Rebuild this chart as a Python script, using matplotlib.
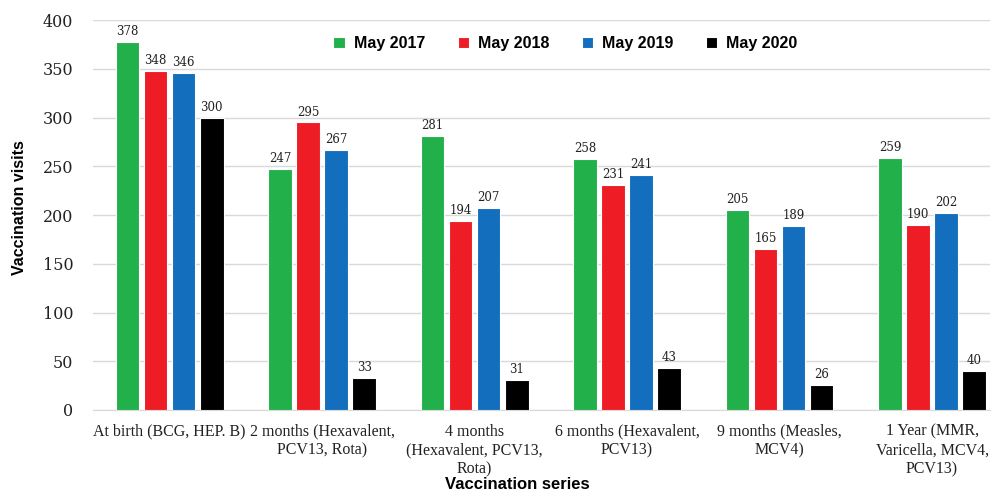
import numpy as np
import matplotlib.pyplot as plt

# Datos
categorias = ["At birth (BCG, HEP. B)", "2 months (Hexavalent,\nPCV13, Rota)",
              "4 months\n(Hexavalent, PCV13,\nRota)", "6 months (Hexavalent,\nPCV13)",
              "9 months (Measles,\nMCV4)", "1 Year (MMR,\nVaricella, MCV4,\nPCV13)"]
series = ["May 2017", "May 2018", "May 2019", "May 2020"]
may_2017 = [378, 247, 281, 258, 205, 259]
may_2018 = [348, 295, 194, 231, 165, 190]
may_2019 = [346, 267, 207, 241, 189, 202]
may_2020 = [300, 33, 31, 43, 26, 40]
colores = ['#22b04b', '#ee1c24', '#136fbd', '#000000']

valores = [may_2017, may_2018, may_2019, may_2020]
serif = ['DejaVu Serif']
serif2 = ['Liberation Serif', 'DejaVu Serif']
sans = ['Liberation Sans', 'DejaVu Sans']

fig = plt.figure(figsize=(9.96, 4.92), dpi=100)
ax = fig.add_axes([0.093, 0.1667, 0.901, 0.7923])

x = np.arange(len(categorias))
paso = 0.184
ancho = 0.155
for i, (nombre, vals, color) in enumerate(zip(series, valores, colores)):
    pos = x + (i - 1.5) * paso
    barras = ax.bar(pos, vals, width=ancho, color=color, edgecolor='white',
                    linewidth=0.8, label=nombre, zorder=3)
    for b, v in zip(barras, vals):
        ax.text(b.get_x() + b.get_width() / 2, v + 4, str(v), ha='center',
                va='bottom', fontsize=8.5, family=serif, color='#222222')

ax.set_ylim(0, 400)
ax.set_xlim(-0.505, 5.38)
ax.set_yticks(range(0, 401, 50))
ax.set_xticks(x)
ax.set_xticklabels(categorias, family=serif2, fontsize=11.5, color='#222222',
                   linespacing=1.25)
for t in ax.get_yticklabels():
    t.set_family(serif)
    t.set_fontsize(11.5)
    t.set_color('#222222')
ax.tick_params(axis='x', length=0, pad=10)
ax.tick_params(axis='y', length=0, pad=14)
ax.grid(axis='y', color='#d9d9d9', linewidth=1, zorder=0)
for s in ['top', 'right', 'left']:
    ax.spines[s].set_visible(False)
ax.spines['bottom'].set_color('#d9d9d9')

ax.set_ylabel("Vaccination visits", family=sans, fontsize=11.5, fontweight='bold')
ax.yaxis.set_label_coords(-0.073, 0.52)
ax.set_xlabel("Vaccination series", family=sans, fontsize=12, fontweight='bold')
ax.xaxis.set_label_coords(0.473, -0.19)
ax.xaxis.label.set_va('center')

ax.legend(loc='upper center', bbox_to_anchor=(0.527, 0.995), ncol=4, frameon=False,
          prop={'family': sans, 'weight': 'bold', 'size': 11.5}, columnspacing=2.0,
          handlelength=0.7, handleheight=0.7, handletextpad=0.6)

plt.savefig("out.png", dpi=100)
